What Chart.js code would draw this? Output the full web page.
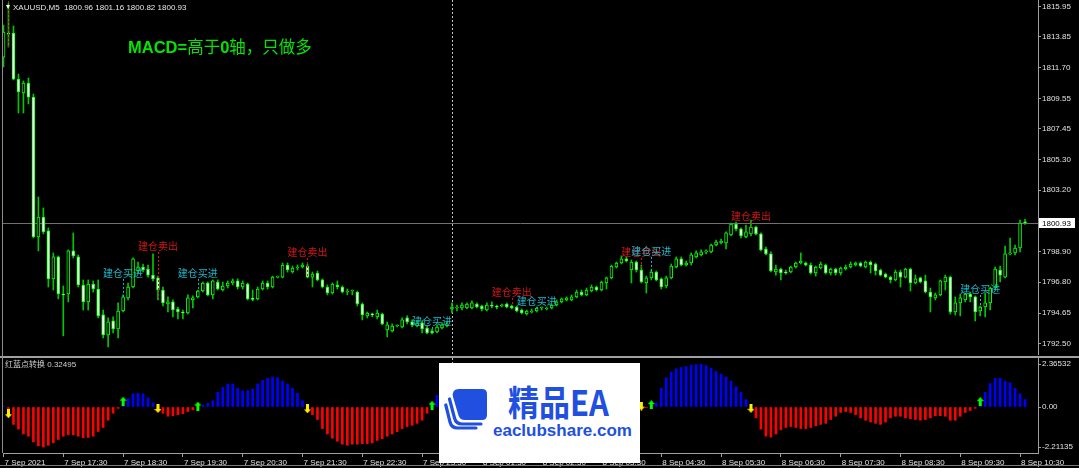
<!DOCTYPE html>
<html lang="zh">
<head>
<meta charset="UTF-8">
<title>XAUUSD,M5</title>
<script src="https://cdn.jsdelivr.net/npm/chart.js"></script>
<style>
  html, body { margin: 0; padding: 0; background: #000; }
  body { width: 1079px; height: 468px; position: relative; overflow: hidden; font-family: "Liberation Sans", Arial, "Noto Sans CJK SC", sans-serif; }
  canvas { position: absolute; left: 0; }
  #mainChart { top: 0; }
  #macdChart { top: 358px; }
  .sep { position: absolute; left: 0; top: 356px; width: 1079px; height: 2px; background: #a0a0a0; }
  .bottomEdge { position: absolute; left: 0; top: 465px; width: 1079px; height: 1px; background: #7a7a7a; }
  .leftEdge { position: absolute; left: 2px; top: 0; width: 1px; height: 453px; background: #8c8c8c; }
  .hdr { position: absolute; left: 6px; top: 3px; font-size: 8px; line-height: 10px; color: #e6e6e6; white-space: nowrap; }
  .tri { display: inline-block; width: 0; height: 0; border-left: 2.5px solid transparent; border-right: 2.5px solid transparent; border-top: 4px solid #fff; margin-right: 3px; vertical-align: 1px; }
  .title { position: absolute; left: 128px; top: 38px; font-size: 16.5px; line-height: 16.5px; color: #00e600; white-space: nowrap; }
  .title b { font-family: "Liberation Sans", Arial, sans-serif; }
  .title span { font-family: "Noto Sans CJK SC", sans-serif; font-weight: normal; }
  .ind { position: absolute; left: 5px; top: 360px; font-size: 8px; line-height: 10px; color: #cfcfcf; white-space: nowrap; }
  .wm { position: absolute; left: 439px; top: 363px; width: 201px; height: 100px; background: #fff; }
  .wm svg { position: absolute; left: 5px; top: 25px; }
  .wmt { position: absolute; left: 69px; top: 20px; font: bold 31px/31px "Noto Sans CJK SC", sans-serif; color: #2150e0; transform: scaleY(1.15); transform-origin: top left; white-space: nowrap; }
  .wmu { position: absolute; left: 54px; top: 59px; font: bold 17px/17px "Liberation Sans", Arial, sans-serif; color: #2150e0; white-space: nowrap; }
</style>
</head>
<body>

<canvas id="mainChart" width="1079" height="355"></canvas>
<canvas id="macdChart" width="1079" height="110"></canvas>
<div class="sep"></div>
<div class="bottomEdge"></div>
<div class="leftEdge"></div>

<div class="hdr"><span class="tri"></span>XAUUSD,M5&nbsp;&nbsp;1800.96 1801.16 1800.82 1800.93</div>
<div class="title"><b>MACD=</b><span>高于</span><b>0</b><span>轴，只做多</span></div>
<div class="ind">红蓝点转换 0.32495</div>

<div class="wm">
  <svg width="46" height="42" viewBox="0 0 46 42">
    <path d="M15 1 H38 Q43 1 43 6 V27 Q43 32 38 32 H21 Q16 32 14.5 27.5 L9 9 Q7.5 1 15 1 Z" fill="#2150e0"/>
    <path d="M5.5 11 L10.5 30 Q12 36 18 36 H37" fill="none" stroke="#2150e0" stroke-width="3.2" stroke-linecap="round"/>
    <path d="M1.8 17 L6 34 Q7.5 40 13.5 40 H32" fill="none" stroke="#2150e0" stroke-width="3.2" stroke-linecap="round"/>
  </svg>
  <div class="wmt">精品EA</div>
  <div class="wmu">eaclubshare.com</div>
</div>

<script>
// XAUUSD M5 candles, 7 Sep 2021 16:30 -> 8 Sep 2021 10:35
const opens = [
  1812.45,1814.12,1814.12,1810.92,1809.95,1810.65,1809.67,1799.94,1801.33,1800.36,
  1797.02,1798.55,1795.97,1795.97,1798.97,1798.55,1796.60,1795.42,1796.67,1796.32,
  1794.52,1793.12,1794.10,1793.54,1794.79,1795.70,1796.46,1797.57,1797.85,1797.71,
  1797.29,1797.09,1796.25,1795.28,1795.42,1794.93,1794.72,1794.65,1795.56,1795.77,
  1796.18,1796.74,1795.91,1796.81,1796.25,1796.53,1796.74,1796.88,1796.46,1796.67,
  1795.63,1795.63,1796.32,1796.74,1796.46,1797.15,1797.15,1797.99,1797.50,1797.78,
  1797.85,1797.92,1797.15,1797.43,1796.95,1796.46,1796.04,1796.60,1796.46,1796.11,
  1796.18,1796.11,1795.28,1794.45,1794.58,1794.38,1794.58,1793.47,1793.40,1793.75,
  1793.68,1794.31,1794.03,1793.75,1793.96,1793.61,1793.40,1793.33,1793.61,1793.75,
  1794.93,1795.00,1795.00,1795.00,1795.00,1795.28,1795.14,1794.86,1795.14,1795.07,
  1795.14,1795.28,1795.14,1795.07,1794.86,1794.58,1794.72,1794.79,1795.00,1794.93,
  1795.00,1795.21,1795.42,1795.56,1795.56,1795.77,1796.11,1795.91,1796.18,1796.46,
  1796.25,1796.74,1797.09,1797.85,1798.13,1798.41,1797.64,1798.20,1797.64,1796.74,
  1797.09,1797.50,1797.02,1796.53,1797.09,1797.85,1798.41,1797.99,1798.13,1798.55,
  1798.69,1798.90,1798.90,1799.38,1799.52,1799.52,1800.08,1800.84,1800.50,1799.94,
  1800.15,1800.63,1800.15,1799.10,1798.76,1797.50,1797.71,1797.50,1797.50,1797.85,
  1798.13,1798.13,1797.99,1797.43,1797.78,1797.99,1797.43,1797.71,1797.43,1797.71,
  1797.85,1797.99,1798.13,1797.85,1798.20,1798.06,1797.64,1797.36,1797.15,1796.95,
  1797.50,1797.15,1797.71,1796.74,1797.09,1796.88,1796.11,1795.70,1795.91,1796.81,
  1797.15,1794.72,1795.35,1795.56,1795.97,1795.77,1794.79,1795.07,1795.35,1796.39,
  1797.64,1797.15,1798.76,1798.83,1799.17,1800.96
];
const highs = [
  1814.68,1816.21,1814.61,1811.27,1810.79,1810.99,1809.88,1802.72,1801.96,1800.57,
  1798.83,1798.62,1796.53,1799.04,1800.22,1798.69,1796.95,1796.95,1796.88,1796.95,
  1794.86,1794.31,1794.38,1795.35,1795.91,1796.74,1798.48,1798.20,1798.06,1797.99,
  1798.76,1797.22,1796.46,1795.77,1795.56,1795.07,1794.86,1795.91,1795.84,1796.25,
  1796.81,1796.81,1796.95,1796.95,1796.81,1796.88,1797.02,1797.02,1796.88,1796.74,
  1796.25,1796.46,1796.88,1796.88,1797.22,1797.22,1798.13,1798.13,1797.92,1797.99,
  1798.13,1798.06,1797.50,1797.57,1797.02,1796.60,1796.74,1796.88,1796.53,1796.32,
  1796.25,1796.18,1795.35,1794.72,1794.65,1794.86,1794.65,1794.03,1793.89,1793.82,
  1794.31,1794.45,1794.17,1794.10,1794.10,1793.75,1793.54,1793.82,1793.96,1794.03,
  1795.35,1795.21,1795.35,1795.35,1795.49,1795.35,1795.21,1795.35,1795.42,1795.21,
  1795.28,1795.35,1795.21,1795.14,1794.93,1794.86,1794.93,1795.07,1795.07,1795.07,
  1795.28,1795.56,1795.70,1795.77,1795.91,1796.25,1796.25,1796.39,1796.60,1796.53,
  1796.88,1797.15,1797.99,1798.20,1798.62,1798.55,1798.34,1798.27,1797.99,1797.22,
  1797.64,1797.57,1797.09,1797.22,1798.06,1798.55,1798.55,1798.27,1798.83,1798.97,
  1799.04,1799.04,1799.45,1799.73,1799.80,1800.29,1800.91,1800.98,1800.57,1800.77,
  1801.12,1800.70,1800.22,1799.24,1798.90,1797.99,1797.78,1797.64,1797.92,1798.20,
  1798.83,1798.20,1798.13,1797.92,1798.20,1798.06,1797.78,1797.78,1797.85,1797.99,
  1798.20,1798.20,1798.20,1798.27,1798.27,1798.13,1797.71,1797.43,1797.22,1797.64,
  1797.64,1797.78,1797.78,1797.29,1797.15,1797.29,1796.39,1796.04,1796.95,1797.29,
  1797.22,1795.77,1795.97,1796.04,1796.11,1795.84,1795.14,1796.04,1796.46,1797.85,
  1797.92,1799.31,1799.87,1799.38,1801.12,1801.16
];
const lows = [
  1811.76,1813.15,1810.86,1808.56,1808.56,1809.19,1799.87,1798.97,1800.15,1796.46,
  1796.25,1795.63,1793.06,1795.42,1798.48,1796.46,1794.86,1794.86,1796.11,1794.31,
  1792.92,1792.29,1793.26,1792.92,1794.72,1795.56,1796.39,1797.43,1797.50,1797.15,
  1796.88,1795.56,1795.14,1794.72,1794.38,1794.24,1794.24,1794.58,1795.00,1795.70,
  1796.11,1795.84,1795.63,1796.25,1796.18,1796.39,1796.60,1796.32,1796.32,1795.56,
  1795.49,1795.56,1796.25,1796.32,1796.39,1797.09,1797.09,1797.50,1797.43,1797.64,
  1797.78,1797.09,1796.46,1796.88,1796.39,1795.91,1795.97,1796.32,1796.04,1795.91,
  1795.91,1795.14,1794.17,1794.31,1794.38,1794.24,1793.82,1792.99,1793.33,1793.68,
  1793.61,1793.89,1793.68,1793.68,1793.26,1793.19,1793.19,1793.26,1793.54,1793.68,
  1794.65,1794.79,1794.86,1794.93,1794.93,1795.00,1794.79,1794.79,1795.00,1794.93,
  1795.07,1795.00,1794.93,1794.72,1794.58,1794.51,1794.65,1794.72,1794.86,1794.86,
  1794.93,1795.14,1795.35,1795.49,1795.49,1795.70,1795.84,1795.84,1796.11,1796.18,
  1796.18,1796.32,1797.02,1797.78,1798.06,1798.20,1796.74,1797.50,1796.74,1796.04,
  1796.95,1796.88,1796.32,1796.39,1797.02,1797.78,1797.92,1797.92,1797.99,1798.48,
  1798.62,1798.76,1798.83,1799.31,1799.45,1799.10,1800.01,1800.36,1799.87,1799.87,
  1800.01,1800.08,1798.97,1798.69,1797.50,1797.29,1796.95,1797.36,1797.43,1797.78,
  1798.06,1797.92,1797.36,1797.22,1797.71,1797.36,1797.29,1797.29,1797.29,1797.64,
  1797.78,1797.92,1797.85,1797.78,1797.43,1797.29,1797.22,1797.09,1796.74,1796.88,
  1796.46,1797.09,1796.18,1796.67,1796.74,1796.04,1794.72,1795.56,1795.84,1796.25,
  1794.58,1794.51,1794.45,1795.42,1795.42,1794.10,1794.45,1794.38,1794.86,1796.25,
  1796.81,1797.09,1798.69,1798.69,1798.90,1800.82
];
const closes = [
  1814.19,1814.05,1810.92,1810.02,1810.65,1809.67,1799.94,1801.33,1800.29,1797.02,
  1798.55,1795.97,1795.90,1798.97,1798.62,1796.60,1795.42,1796.67,1796.32,1794.45,
  1793.12,1794.03,1793.54,1794.79,1795.77,1796.46,1798.41,1797.85,1797.64,1797.29,
  1797.02,1796.25,1795.35,1795.42,1794.86,1794.72,1794.65,1795.70,1795.70,1796.18,
  1796.74,1795.91,1796.88,1796.32,1796.53,1796.74,1796.88,1796.46,1796.74,1795.63,
  1795.60,1796.32,1796.74,1796.46,1797.15,1797.17,1797.99,1797.64,1797.78,1797.85,
  1797.99,1797.15,1797.36,1796.95,1796.46,1796.04,1796.67,1796.46,1796.11,1796.18,
  1796.20,1795.28,1794.52,1794.65,1794.52,1794.65,1793.89,1793.82,1793.75,1793.77,
  1794.17,1794.03,1793.82,1793.96,1793.54,1793.26,1793.26,1793.68,1793.82,1793.89,
  1795.07,1795.07,1795.21,1795.28,1795.35,1795.07,1794.93,1795.21,1795.12,1795.05,
  1795.21,1795.07,1795.00,1794.79,1794.65,1794.79,1794.79,1795.00,1795.02,1795.00,
  1795.21,1795.42,1795.63,1795.70,1795.77,1796.11,1795.91,1796.25,1796.46,1796.25,
  1796.81,1797.09,1797.92,1798.13,1798.41,1798.27,1798.20,1797.64,1796.81,1797.09,
  1797.50,1796.95,1796.46,1797.09,1797.92,1798.41,1797.99,1798.13,1798.69,1798.83,
  1798.90,1798.97,1799.38,1799.59,1799.66,1800.22,1800.84,1800.50,1800.01,1800.29,
  1800.63,1800.15,1799.04,1798.76,1797.57,1797.71,1797.43,1797.43,1797.85,1798.13,
  1798.27,1797.99,1797.43,1797.85,1798.06,1797.43,1797.71,1797.43,1797.78,1797.85,
  1798.06,1798.13,1797.92,1798.20,1797.99,1797.57,1797.29,1797.15,1796.95,1797.50,
  1797.15,1797.71,1796.74,1797.02,1796.81,1796.11,1795.77,1795.91,1796.88,1797.15,
  1794.72,1795.35,1795.70,1795.97,1795.77,1794.72,1795.07,1795.35,1796.39,1797.71,
  1797.29,1798.76,1798.83,1799.17,1800.91,1800.93
];

// indicator histogram (one value per candle)
const hist = [
   0.05,-0.30,-0.96,-1.22,-1.49,-1.61,-1.93,-2.14,-2.21,-2.11,
  -1.98,-1.79,-1.61,-1.52,-1.54,-1.61,-1.70,-1.68,-1.61,-1.35,
  -1.13,-0.73,-0.34,-0.07, 0.12, 0.46, 0.73, 0.76, 0.73, 0.50,
   0.23,-0.10,-0.34,-0.51,-0.48,-0.42,-0.37,-0.25,-0.16, 0.05,
   0.10, 0.20, 0.35, 0.81, 1.08, 1.27, 1.27, 1.04, 0.90, 0.90,
   0.99, 1.27, 1.47, 1.58, 1.65, 1.62, 1.43, 1.27, 1.04, 0.76,
   0.34,-0.10,-0.42,-0.69,-1.19,-1.49,-1.72,-1.89,-2.05,-2.11,
  -2.05,-2.05,-2.02,-2.02,-1.98,-1.84,-1.75,-1.61,-1.49,-1.36,
  -1.19,-1.08,-1.01,-0.90,-0.73,-0.34, 0.10, 0.64, 0.95, 1.15,
   1.25, 1.30, 1.25, 1.15, 1.05, 0.95, 0.85, 0.75, 0.60, 0.45,
   0.30, 0.15,-0.08,-0.20,-0.30,-0.32,-0.18, 0.06, 0.20, 0.35,
   0.50, 0.65, 0.80, 0.92, 1.05, 1.18, 1.25, 1.35, 1.42, 1.48,
   1.55, 1.60, 1.62, 1.55, 1.40, 1.15, 0.80, 0.40,-0.08,-0.04,
   0.08, 0.23, 1.04, 1.61, 1.93, 2.11, 2.18, 2.23, 2.30, 2.34,
   2.36532, 2.28, 2.14, 1.96, 1.82, 1.66, 1.43, 1.12, 0.81, 0.41,
  -0.10,-0.60,-1.22,-1.61,-1.66,-1.49,-1.26,-1.13,-1.08,-1.13,
  -1.19,-1.19,-1.13,-1.04,-0.96,-0.90,-0.69,-0.51,-0.30,-0.25,
  -0.30,-0.42,-0.60,-0.73,-0.83,-0.90,-0.96,-0.83,-0.60,-0.51,
  -0.51,-0.60,-0.65,-0.69,-0.73,-0.69,-0.60,-0.48,-0.48,-0.51,
  -0.73,-0.73,-0.51,-0.30,-0.19,-0.07, 0.08, 0.81, 1.29, 1.58,
   1.58, 1.43, 1.34, 1.03, 0.73, 0.41
];

// signal arrows in the indicator window
const upIdx   = [24, 39, 86, 107, 130, 196];
const upVal   = [0.32, 0.05, 0.10, 0.10, 0.13, 0.30];
const downIdx = [1, 31, 61, 102, 128, 150];
const downVal = [-0.37, -0.08, -0.10, -0.10, 0.05, -0.07];

// text signals on the price window
const sigIdx    = [1, 24, 31, 39, 61, 86, 102, 107, 128, 130, 150, 196];
const sigKind   = ['sell','buy','sell','buy','sell','buy','sell','buy','sell','buy','sell','buy'];
const sigTextAt = [1817.60, 1797.44, 1799.31, 1797.44, 1798.90, 1794.10, 1796.11, 1795.49, 1798.90, 1798.97, 1801.40, 1796.32];
const sigLineTo = [1813.15, 1795.77, 1795.56, 1796.18, 1797.15, 1793.40, 1795.14, 1794.79, 1797.64, 1797.50, 1800.63, 1795.07];

// axes
const priceTicks = [1815.95, 1813.85, 1811.70, 1809.55, 1807.45, 1805.30, 1803.20, 1798.90, 1796.80, 1794.65, 1792.50];
const macdTicks = [-2.21135, 0, 2.36532];
const tickIdx = [0, 12, 24, 36, 48, 60, 72, 84, 96, 108, 120, 132, 144, 156, 168, 180, 192, 204];
const tickLabels = ['7 Sep 2021', '7 Sep 17:30', '7 Sep 18:30', '7 Sep 19:30', '7 Sep 20:30', '7 Sep 21:30',
  '7 Sep 22:30', '7 Sep 23:30', '8 Sep 01:30', '8 Sep 02:30', '8 Sep 03:30', '8 Sep 04:30', '8 Sep 05:30',
  '8 Sep 06:30', '8 Sep 07:30', '8 Sep 08:30', '8 Sep 09:30', '8 Sep 10:30'];
const dayBreaks = [90];

const FONT = '"Liberation Sans", Arial, sans-serif';
const N = opens.length;
const idx = opens.map((_, i) => i);
const X_MIN = -0.1, X_MAX = 207.6;

function dotted(ctx, x, y0, y1, color) {
  ctx.save();
  ctx.strokeStyle = color;
  ctx.lineWidth = 1;
  ctx.setLineDash([2, 2]);
  ctx.beginPath();
  ctx.moveTo(Math.round(x) + 0.5, y0);
  ctx.lineTo(Math.round(x) + 0.5, y1);
  ctx.stroke();
  ctx.restore();
}

const mainOverlay = {
  id: 'mainOverlay',
  beforeDatasetsDraw(chart) {
    const { ctx, chartArea: a, scales: { x, y } } = chart;
    const py = Math.round(y.getPixelForValue(closes[N - 1])) + 0.5;
    ctx.save();
    ctx.strokeStyle = '#707070';
    ctx.lineWidth = 1;
    ctx.beginPath();
    ctx.moveTo(a.left, py);
    ctx.lineTo(a.right, py);
    ctx.stroke();
    ctx.restore();
    dayBreaks.forEach(d => dotted(ctx, x.getPixelForValue(d), a.top, a.bottom, '#c4c4c4'));
  },
  afterDatasetsDraw(chart) {
    const { ctx, scales: { x, y } } = chart;
    sigIdx.forEach((d, k) => {
      const color = sigKind[k] === 'buy' ? '#1cb8cc' : '#d41414';
      const px = x.getPixelForValue(d);
      const ty = y.getPixelForValue(sigTextAt[k]);
      const ly = y.getPixelForValue(sigLineTo[k]);
      if (ly > ty + 6) dotted(ctx, px, ty + 6, ly, color);
      ctx.save();
      ctx.fillStyle = color;
      ctx.font = '10px "Noto Sans CJK SC", sans-serif';
      ctx.textAlign = 'center';
      ctx.textBaseline = 'middle';
      ctx.fillText(sigKind[k] === 'buy' ? '建仓买进' : '建仓卖出', px, ty);
      ctx.restore();
    });
  },
  afterDraw(chart) {
    const { ctx, chartArea: a, scales: { y } } = chart;
    const py = Math.round(y.getPixelForValue(closes[N - 1]));
    ctx.save();
    ctx.fillStyle = '#ffffff';
    ctx.fillRect(a.right + 1, py - 5, 36, 10);
    ctx.fillStyle = '#000000';
    ctx.font = '8px ' + FONT;
    ctx.textBaseline = 'middle';
    ctx.fillText(closes[N - 1].toFixed(2), a.right + 4, py + 0.5);
    ctx.restore();
  }
};

const macdOverlay = {
  id: 'macdOverlay',
  beforeDatasetsDraw(chart) {
    const { ctx, chartArea: a, scales: { x } } = chart;
    dayBreaks.forEach(d => dotted(ctx, x.getPixelForValue(d), a.top, a.bottom, '#c4c4c4'));
  }
};

function arrowImg(color, up) {
  const c = document.createElement('canvas');
  c.width = 7; c.height = 9;
  const g = c.getContext('2d');
  g.fillStyle = color;
  g.beginPath();
  if (up) {
    g.moveTo(3.5, 0); g.lineTo(7, 4); g.lineTo(5, 4); g.lineTo(5, 9); g.lineTo(2, 9); g.lineTo(2, 4); g.lineTo(0, 4);
  } else {
    g.moveTo(3.5, 9); g.lineTo(7, 5); g.lineTo(5, 5); g.lineTo(5, 0); g.lineTo(2, 0); g.lineTo(2, 5); g.lineTo(0, 5);
  }
  g.closePath();
  g.fill();
  return c;
}

const axisTicks = { color: '#e0e0e0', font: { size: 8, family: FONT } };

new Chart(document.getElementById('mainChart'), {
  type: 'bar',
  data: {
    datasets: [
      {
        label: 'body',
        data: idx.map(i => ({ x: i, y: [opens[i], closes[i]] })),
        backgroundColor: idx.map(i => closes[i] < opens[i] ? '#ffffff' : '#000000'),
        borderColor: '#00ff00',
        borderWidth: 1,
        borderSkipped: false,
        barThickness: 3,
        minBarLength: 1,
        grouped: false
      },
      {
        label: 'wick',
        data: idx.map(i => ({ x: i, y: [lows[i], highs[i]] })),
        backgroundColor: '#00c800',
        barThickness: 1,
        grouped: false
      }
    ]
  },
  options: {
    responsive: false,
    animation: false,
    devicePixelRatio: 1,
    layout: { autoPadding: false, padding: { left: 3, top: 0, right: 0, bottom: 0 } },
    plugins: { legend: { display: false }, tooltip: { enabled: false } },
    scales: {
      x: {
        type: 'linear', min: X_MIN, max: X_MAX, offset: false,
        ticks: { display: false },
        grid: { display: false, offset: false },
        border: { display: false },
        afterFit: s => { s.height = 0; s.paddingLeft = 0; s.paddingRight = 0; }
      },
      y: {
        position: 'right',
        min: 1791.73,
        max: 1816.42,
        afterBuildTicks: s => { s.ticks = priceTicks.map(v => ({ value: v })); },
        afterFit: s => { s.width = 41; s.paddingTop = 0; s.paddingBottom = 0; },
        ticks: { ...axisTicks, padding: 1, autoSkip: false, callback: v => v.toFixed(2) },
        grid: { drawOnChartArea: false, tickLength: 3, color: '#a0a0a0' },
        border: { color: '#a0a0a0' }
      }
    }
  },
  plugins: [mainOverlay]
});

new Chart(document.getElementById('macdChart'), {
  type: 'bar',
  data: {
    datasets: [
      {
        type: 'scatter',
        data: upIdx.map((d, k) => ({ x: d, y: upVal[k] })),
        pointStyle: arrowImg('#00ff00', true),
        pointRadius: 4
      },
      {
        type: 'scatter',
        data: downIdx.map((d, k) => ({ x: d, y: downVal[k] })),
        pointStyle: arrowImg('#ffee00', false),
        pointRadius: 4
      },
      {
        label: 'hist',
        data: idx.map(i => ({ x: i, y: hist[i] })),
        backgroundColor: hist.map(v => v >= 0 ? '#0000ff' : '#ff0000'),
        barThickness: 2,
        grouped: false
      }
    ]
  },
  options: {
    responsive: false,
    animation: false,
    devicePixelRatio: 1,
    layout: { autoPadding: false, padding: { left: 3, top: 0, right: 0, bottom: 0 } },
    plugins: { legend: { display: false }, tooltip: { enabled: false } },
    scales: {
      x: {
        type: 'linear',
        min: X_MIN,
        max: X_MAX,
        offset: false,
        afterBuildTicks: s => { s.ticks = tickIdx.map(v => ({ value: v })); },
        afterFit: s => { s.height = 15; s.paddingLeft = 0; s.paddingRight = 0; },
        ticks: { ...axisTicks, autoSkip: false, maxRotation: 0, align: 'start', labelOffset: 1, padding: 1,
                 callback: (v, i) => tickLabels[i] },
        grid: { drawOnChartArea: false, offset: false, tickLength: 4, color: '#a0a0a0' },
        border: { color: '#a0a0a0' }
      },
      y: {
        position: 'right',
        min: -2.537,
        max: 2.703,
        afterBuildTicks: s => { s.ticks = macdTicks.map(v => ({ value: v })); },
        afterFit: s => { s.width = 41; s.paddingTop = 0; s.paddingBottom = 0; },
        ticks: { ...axisTicks, padding: 1, autoSkip: false, callback: v => v === 0 ? '0.00' : String(v) },
        grid: { drawOnChartArea: false, tickLength: 3, color: '#a0a0a0' },
        border: { color: '#a0a0a0' }
      }
    }
  },
  plugins: [macdOverlay]
});
</script>
</body>
</html>
